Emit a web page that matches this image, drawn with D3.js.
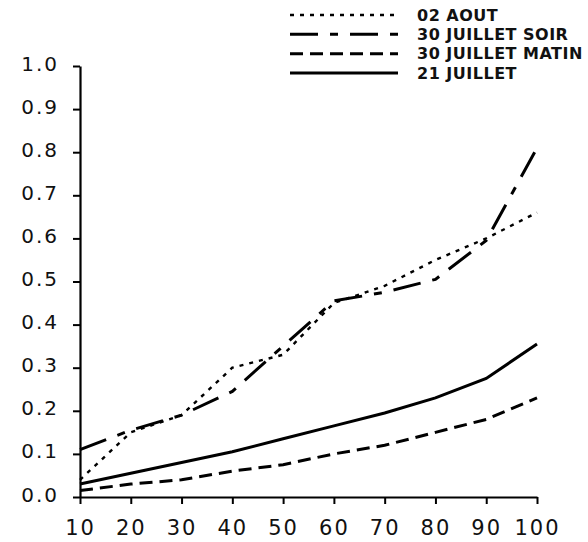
<!DOCTYPE html>
<html>
<head>
<meta charset="utf-8">
<script src="https://cdn.jsdelivr.net/npm/d3@7"></script>
<style>
  body { margin: 0; background: #fff; }
</style>
</head>
<body>
<div id="chart"></div>
<script>
// values
var xValues = [10, 20, 30, 40, 50, 60, 70, 80, 90, 100];
var aout02 = [0.04, 0.15, 0.19, 0.30, 0.33, 0.45, 0.49, 0.55, 0.60, 0.66];
var juilletSoir30 = [0.11, 0.155, 0.19, 0.245, 0.35, 0.455, 0.475, 0.505, 0.595, 0.81];
var juilletMatin30 = [0.015, 0.03, 0.04, 0.06, 0.075, 0.10, 0.12, 0.15, 0.18, 0.23];
var juillet21 = [0.03, 0.055, 0.08, 0.105, 0.135, 0.165, 0.195, 0.23, 0.275, 0.355];
var seriesNames = ['02 AOUT', '30 JUILLET SOIR', '30 JUILLET MATIN', '21 JUILLET'];
var yTicks = [0, 0.1, 0.2, 0.3, 0.4, 0.5, 0.6, 0.7, 0.8, 0.9, 1.0];

var series = [
  { name: seriesNames[0], values: aout02, dash: '4,6', width: 2.4 },
  { name: seriesNames[1], values: juilletSoir30, dash: '28,12,8,12', width: 3 },
  { name: seriesNames[2], values: juilletMatin30, dash: '13,7', width: 3 },
  { name: seriesNames[3], values: juillet21, dash: null, width: 3 }
];

var width = 588, height = 542;
var svg = d3.select('#chart').append('svg')
    .attr('width', width)
    .attr('height', height);

var x = d3.scaleLinear().domain([10, 100]).range([80, 537]);
var y = d3.scaleLinear().domain([0, 1]).range([497, 66]);

var tickFont = '"DejaVu Sans", sans-serif';

// x axis
var xAxis = svg.append('g')
    .attr('transform', 'translate(0,' + y(0) + ')')
    .call(d3.axisBottom(x).tickValues(xValues).tickSize(7).tickSizeOuter(0).tickPadding(16)
      .tickFormat(d3.format('d')));
xAxis.select('.domain').attr('stroke-width', 2.2);
xAxis.selectAll('.tick line').attr('stroke-width', 2);
xAxis.selectAll('.tick text')
    .style('font-family', tickFont)
    .style('font-size', '21px')
    .style('letter-spacing', '2px')
    .attr('fill', '#111');

// y axis
var yAxis = svg.append('g')
    .attr('transform', 'translate(' + x(10) + ',0)')
    .call(d3.axisLeft(y).tickValues(yTicks).tickSize(7).tickSizeOuter(0).tickPadding(14)
      .tickFormat(d3.format('.1f')));
yAxis.select('.domain').attr('stroke-width', 2.2);
yAxis.selectAll('.tick line').attr('stroke-width', 2);
yAxis.selectAll('.tick text')
    .attr('dy', '0.2em')
    .style('font-family', tickFont)
    .style('font-size', '20px')
    .style('letter-spacing', '2px')
    .attr('fill', '#111');

// lines
var line = d3.line()
    .x(function (d, i) { return x(xValues[i]); })
    .y(function (d) { return y(d); });

svg.selectAll('.series')
    .data(series)
    .enter()
    .append('path')
    .attr('class', 'series')
    .attr('d', function (d) { return line(d.values); })
    .attr('fill', 'none')
    .attr('stroke', '#000')
    .attr('stroke-width', function (d) { return d.width; })
    .attr('stroke-dasharray', function (d) { return d.dash; });

// legend
var legend = svg.append('g').attr('class', 'legend');
var legendY = d3.scalePoint().domain(seriesNames).range([15, 73]);

var item = legend.selectAll('.item')
    .data(series)
    .enter()
    .append('g')
    .attr('class', 'item')
    .attr('transform', function (d) { return 'translate(0,' + legendY(d.name) + ')'; });

item.append('line')
    .attr('x1', 290)
    .attr('x2', 398)
    .attr('stroke', '#000')
    .attr('stroke-width', function (d) { return d.width; })
    .attr('stroke-dasharray', function (d) { return d.dash; });

item.append('text')
    .attr('x', 417)
    .attr('dy', '0.36em')
    .style('font-family', '"DejaVu Sans", sans-serif')
    .style('font-weight', 700)
    .style('font-size', '16px')
    .style('letter-spacing', '0.5px')
    .attr('fill', '#111')
    .text(function (d) { return d.name; });
</script>
</body>
</html>
